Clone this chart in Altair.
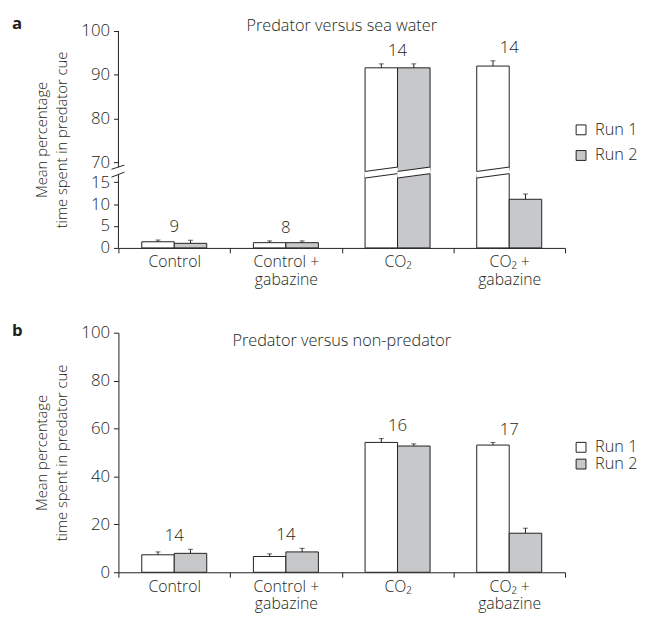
import json
import altair as alt
import pandas as pd

# ---------------- data ----------------
categories = ["Control", "Control +\ngabazine", "CO₂", "CO₂ +\ngabazine"]
runs = ["Run 1", "Run 2"]

# Panel a: predator versus sea water
a_run1 = [1.4, 1.2, 91.6, 92.0]
a_run1_err = [1.8, 1.6, 92.5, 93.2]
a_run2 = [1.05, 1.2, 91.6, 11.1]
a_run2_err = [1.75, 1.6, 92.5, 12.3]
a_n = [9, 8, 14, 14]

# Panel b: predator versus non-predator
b_run1 = [7.3, 6.6, 54.2, 53.1]
b_run1_err = [8.5, 7.7, 55.8, 54.2]
b_run2 = [7.9, 8.5, 52.7, 16.3]
b_run2_err = [9.6, 10.0, 53.6, 18.4]
b_n = [14, 14, 16, 17]

a_ticks = [0, 5, 10, 15, 70, 80, 90, 100]
b_ticks = [0, 20, 40, 60, 80, 100]

# ---------------- style / layout constants ----------------
INK = "#231f20"
GREY = "#c7c8ca"
FONT = "Open Sans"
LIGHT = 300
W = 453
H_A = 220
H_B = 243
BAR_W = 0.291          # width of one bar, in group units
SHIFT = 50.5           # broken axis: values above the break are shifted down by this
A_TOP = 100 - SHIFT    # top of panel a's (shifted) scale


def frame(r1, e1, r2, e2, n):
    rows = []
    for i, cat in enumerate(categories):
        for ri, (vals, errs) in enumerate([(r1, e1), (r2, e2)]):
            rows.append({"category": cat, "idx": i, "ri": ri, "run": runs[ri],
                         "value": vals[i], "err": errs[i], "n": n[i]})
    return pd.DataFrame(rows)


def x_label_expr():
    parts = []
    for i, cat in enumerate(categories):
        parts.append(f"datum.value == {i + 0.5} ? {json.dumps(cat.split(chr(10)))} : ")
    return "".join(parts) + "''"


x_vals = [k / 2 for k in range(0, 9)]
x_axis = alt.Axis(
    values=x_vals, tickCount=len(x_vals),
    labelExpr=x_label_expr(),
    tickOpacity={"condition": {"test": "datum.value % 1 == 0", "value": 1}, "value": 0},
    tickSize=5, labelPadding=1, labelLineHeight=18, labelFontSize=16,
    labelFontWeight=LIGHT,
    domainColor=INK, tickColor=INK, labelColor=INK, grid=False, title=None,
    labelAngle=0, labelOverlap=False,
)
x_scale = alt.Scale(domain=[0, 4], nice=False, zero=False)
fill_scale = alt.Scale(domain=runs, range=["white", GREY])

one = alt.Data(values=[{}])
Y_TITLE = ["Mean percentage", "time spent in predator cue"]


def panel(df, broken, letter, title, height, legend_y, row_pad, title_y):
    common = dict(grid=False, tickSize=5, tickColor=INK, labelColor=INK,
                  labelFontSize=17, labelFontWeight=LIGHT, labelPadding=4,
                  labelOverlap=False, labelBound=False,
                  title=Y_TITLE, titleFontSize=15, titleFontWeight=LIGHT,
                  titleColor=INK, titlePadding=12, titleLineHeight=20)
    if broken:
        yexpr = f"datum.value > 20 ? datum.value - {SHIFT} : datum.value"
        eexpr = f"datum.err > 20 ? datum.err - {SHIFT} : datum.err"
        y_scale = alt.Scale(domain=[0, A_TOP], nice=False, zero=True)
        y_vals = [t - SHIFT if t > 20 else t for t in a_ticks]
        y_axis = alt.Axis(
            values=y_vals, tickCount=len(y_vals),
            labelExpr=f"datum.value > 16 ? round(datum.value + {SHIFT}) : datum.value",
            domain=False, **common)
    else:
        yexpr = "datum.value"
        eexpr = "datum.err"
        y_scale = alt.Scale(domain=[0, 100], nice=False)
        y_axis = alt.Axis(values=b_ticks, tickCount=len(b_ticks), domain=True,
                          domainColor=INK, **common)

    base = alt.Chart(df).transform_calculate(
        yv=yexpr, ye=eexpr,
        x0=f"datum.idx + 0.5 + (datum.ri - 1) * {BAR_W}",
        x1=f"datum.idx + 0.5 + datum.ri * {BAR_W}",
        xc=f"datum.idx + 0.5 + (datum.ri - 0.5) * {BAR_W}",
    )

    bars = base.mark_rect(stroke=INK, strokeWidth=1).encode(
        x=alt.X("x0:Q", scale=x_scale, axis=x_axis),
        x2="x1:Q",
        y=alt.Y("yv:Q", scale=y_scale, axis=y_axis),
        y2=alt.datum(0),
        fill=alt.Fill("run:N", scale=fill_scale, legend=alt.Legend(
            orient="none", legendX=461, legendY=legend_y, title=None,
            symbolType="square", symbolSize=100, symbolStrokeColor=INK,
            symbolStrokeWidth=1, labelFontSize=16.5, labelColor=INK, labelFont=FONT,
            labelFontWeight=LIGHT,
            labelOffset=6, rowPadding=row_pad, direction="vertical")),
    )
    stems = base.mark_rule(color=INK, strokeWidth=1).encode(
        x="xc:Q", y="yv:Q", y2="ye:Q")
    caps = base.mark_tick(orient="horizontal", size=5, thickness=1, color=INK).encode(
        x="xc:Q", y="ye:Q")
    counts = base.transform_aggregate(
        top="max(ye)", n="max(n)", groupby=["idx"]
    ).transform_calculate(center="datum.idx + 0.5").mark_text(
        dy=-13, fontSize=17, color=INK, font=FONT, fontWeight=LIGHT, baseline="middle"
    ).encode(x="center:Q", y="top:Q", text="n:N")

    layers = [bars, stems, caps, counts]

    if broken:
        brk = base.transform_filter("datum.value > 20")
        gap = brk.mark_rule(color="white", strokeWidth=6.5, xOffset=-0.5, x2Offset=0.5).encode(
            x="x0:Q", x2="x1:Q", y=alt.datum(16.7), y2=alt.datum(17.7))
        edge_lo = brk.mark_rule(color=INK, strokeWidth=1).encode(
            x="x0:Q", x2="x1:Q", y=alt.datum(15.95), y2=alt.datum(16.95))
        edge_hi = brk.mark_rule(color=INK, strokeWidth=1).encode(
            x="x0:Q", x2="x1:Q", y=alt.datum(17.45), y2=alt.datum(18.45))
        ax_lo = alt.Chart(one).mark_rule(color=INK).encode(
            x=alt.value(0), y=alt.datum(0), y2=alt.datum(16.75))
        ax_hi = alt.Chart(one).mark_rule(color=INK).encode(
            x=alt.value(0), y=alt.datum(18.4), y2=alt.datum(A_TOP))
        sl1 = alt.Chart(one).mark_rule(color=INK).encode(
            x=alt.value(-7), x2=alt.value(6), y=alt.datum(17.95), y2=alt.datum(18.9))
        sl2 = alt.Chart(one).mark_rule(color=INK).encode(
            x=alt.value(-7), x2=alt.value(6), y=alt.datum(16.15), y2=alt.datum(17.28))
        layers += [gap, edge_lo, edge_hi, ax_lo, ax_hi, sl1, sl2]

    ttl = alt.Chart(one).mark_text(
        text=title, fontSize=16.5, color=INK, font=FONT, fontWeight=LIGHT,
        baseline="alphabetic", align="center"
    ).encode(x=alt.value(W / 2), y=alt.value(title_y))
    let = alt.Chart(one).mark_text(
        text=letter, fontSize=17, fontWeight="bold", color=INK, font=FONT,
        baseline="alphabetic", align="left"
    ).encode(x=alt.value(-108), y=alt.value(-2 if broken else 3))
    layers += [ttl, let]

    return alt.layer(*layers).properties(width=W, height=height)


pa = panel(frame(a_run1, a_run1_err, a_run2, a_run2_err, a_n), True, "a",
           "Predator versus sea water", H_A, 92, 9, 0)
pb = panel(frame(b_run1, b_run1_err, b_run2, b_run2_err, b_n), False, "b",
           "Predator versus non-predator", H_B, 108, 0, 13)

chart = alt.vconcat(pa, pb, spacing=35).resolve_scale(fill="independent").properties(
    padding={"left": 4, "top": 3, "right": 0, "bottom": 0}
).configure_view(stroke=None).configure_axis(
    labelFont=FONT, titleFont=FONT
).configure_text(font=FONT)

chart.save("out.html", embed_options={"renderer": "svg", "actions": False})
